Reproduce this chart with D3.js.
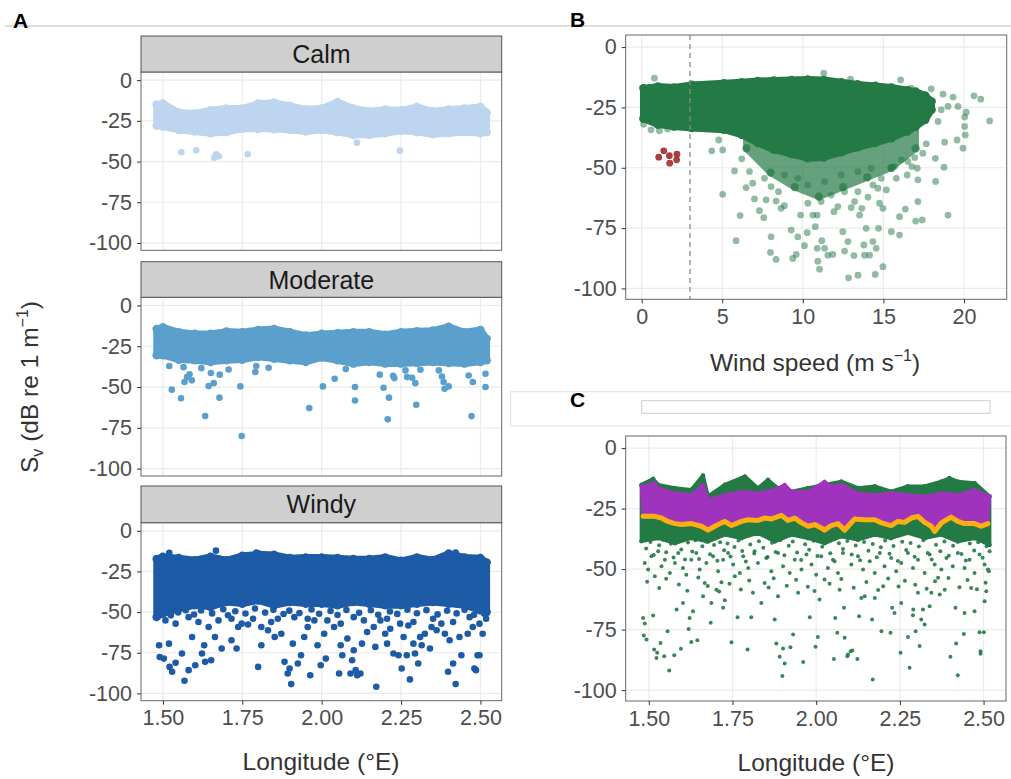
<!DOCTYPE html>
<html>
<head>
<meta charset="utf-8">
<script src="https://cdn.jsdelivr.net/npm/d3@7"></script>
<style>
  body { margin: 0; background: #fff; }
  svg { display: block; }
</style>
</head>
<body>
<div id="chart"></div>
<script>
// ---- data ----
const yTicks = [0, -25, -50, -75, -100];
const lonTicks = [1.5, 1.75, 2, 2.25, 2.5];
const windTicks = [0, 5, 10, 15, 20];
const facetNames = ["Calm", "Moderate", "Windy"];

// A: dense band envelopes (point centres) per facet
const aLon = [1.48, 1.50, 1.55, 1.60, 1.65, 1.70, 1.75, 1.80, 1.85, 1.90, 1.95, 2.00, 2.05, 2.10, 2.15, 2.20, 2.25, 2.30, 2.35, 2.40, 2.45, 2.50, 2.52];
const calmTop = [-14.9, -14.3, -19.8, -20.4, -18.4, -17.3, -17.3, -14.3, -13.7, -15.7, -17.8, -17.3, -13.3, -17.3, -19.0, -18.0, -18.4, -16.3, -19.0, -18.0, -17.3, -16.3, -19.8];
const calmBottom = [-28.0, -28.6, -30.6, -31.6, -32.7, -32.0, -30.0, -30.0, -30.2, -30.6, -31.6, -30.6, -32.0, -33.7, -33.7, -32.7, -31.2, -32.0, -33.3, -32.7, -32.0, -32.7, -32.0];
const moderateTop = [-14.3, -13.3, -16.3, -17.3, -17.3, -15.9, -16.3, -14.9, -14.3, -16.3, -18.4, -17.3, -16.9, -16.3, -16.3, -17.8, -16.3, -15.7, -15.3, -12.9, -16.3, -14.9, -20.4];
const moderateBottom = [-30.6, -30.6, -33.3, -33.7, -34.7, -33.7, -33.3, -31.6, -32.7, -33.7, -34.7, -32.0, -33.7, -35.7, -34.7, -35.7, -35.7, -35.3, -34.7, -35.3, -35.7, -34.7, -33.7];
const windyTop = [-17.3, -15.9, -16.7, -18.0, -15.9, -18.0, -15.3, -14.3, -14.7, -16.7, -16.3, -16.3, -16.7, -17.3, -17.3, -16.3, -18.4, -16.3, -18.0, -13.9, -16.3, -16.7, -19.4];
const windyBottom = [-53.1, -51.0, -48.0, -45.9, -46.9, -43.9, -44.9, -42.9, -45.9, -43.9, -44.9, -44.9, -45.9, -43.9, -44.9, -45.9, -45.9, -44.9, -43.9, -44.9, -45.9, -49.0, -50.0];

// A: single points outside the band [lon, Sv]
const calmPoints = [[1.558, -44.3], [1.605, -43.1], [1.662, -47.6], [1.676, -46.7], [1.668, -45.5], [1.767, -45.5], [2.111, -38.4], [2.246, -43.3]];
const moderatePoints = [
  [1.520, -37.1], [1.528, -51.6], [1.557, -56.9], [1.565, -37.8], [1.568, -46.9], [1.576, -43.9], [1.584, -42.2], [1.591, -45.9],
  [1.621, -38.4], [1.633, -67.8], [1.644, -49.4], [1.651, -41.4], [1.660, -47.6], [1.678, -56.5], [1.679, -42.4], [1.707, -39.2],
  [1.744, -49.6], [1.748, -80.0], [1.791, -40.8], [1.794, -37.1], [1.833, -38.2], [1.961, -62.9], [2.004, -49.6], [2.041, -44.9],
  [2.076, -39.0], [2.105, -50.0], [2.105, -58.2], [2.183, -42.4], [2.195, -50.4], [2.208, -69.8], [2.212, -56.5], [2.225, -43.1],
  [2.229, -44.5], [2.264, -39.8], [2.269, -43.9], [2.285, -44.3], [2.295, -47.6], [2.298, -60.8], [2.311, -39.4], [2.369, -39.8],
  [2.379, -43.5], [2.384, -46.9], [2.387, -51.0], [2.400, -49.6], [2.463, -42.9], [2.472, -67.8], [2.476, -46.9], [2.516, -41.8],
  [2.516, -50.0]
];
const windyPoints = [
  [1.520, -13.5], [1.667, -12.2], [1.794, -13.3], [2.422, -13.3],
  [1.495, -48.5], [1.525, -52.0], [1.548, -50.2], [1.572, -48.8], [1.598, -51.5], [1.620, -49.0], [1.655, -50.8], [1.690, -48.2],
  [1.705, -51.9], [1.728, -49.5], [1.760, -50.9], [1.790, -47.8], [1.822, -50.3], [1.848, -48.6], [1.880, -51.2], [1.898, -49.1],
  [1.930, -50.6], [1.968, -48.4], [1.992, -51.0], [2.028, -49.3], [2.050, -51.8], [2.078, -48.7], [2.118, -50.4], [2.155, -48.9],
  [2.178, -51.6], [2.215, -49.6], [2.238, -51.1], [2.270, -48.5], [2.300, -50.7], [2.330, -48.8], [2.365, -51.4], [2.395, -49.2],
  [2.425, -50.8], [2.450, -48.6], [2.480, -51.7], [2.505, -49.0],
  [1.508, -55.1], [1.540, -57.1], [1.581, -53.1], [1.612, -56.1], [1.644, -59.2], [1.675, -55.1], [1.716, -54.1], [1.748, -57.1],
  [1.841, -56.1], [1.862, -54.1], [1.914, -53.1], [1.956, -54.1], [2.018, -55.1], [2.060, -57.1], [2.101, -53.1], [2.133, -55.1],
  [2.206, -54.1], [2.289, -56.1], [2.351, -54.1], [2.414, -56.1], [2.466, -53.1], [2.497, -57.1], [2.518, -54.1],
  [1.488, -70.4], [1.490, -77.6], [1.503, -78.6], [1.519, -69.4], [1.521, -83.7], [1.529, -86.7], [1.540, -81.2], [1.560, -75.5],
  [1.568, -92.2], [1.581, -85.7], [1.592, -65.3], [1.602, -82.7], [1.623, -75.5], [1.630, -70.4], [1.633, -80.6], [1.652, -79.6],
  [1.664, -65.3], [1.685, -72.4], [1.716, -67.3], [1.732, -72.4], [1.737, -59.2], [1.768, -57.6], [1.784, -54.1], [1.800, -83.7],
  [1.810, -70.4], [1.810, -59.2], [1.831, -61.2], [1.852, -65.3], [1.873, -63.3], [1.883, -80.6], [1.893, -87.8], [1.899, -84.7],
  [1.904, -94.3], [1.909, -69.4], [1.925, -81.6], [1.935, -76.5], [1.945, -65.3], [1.956, -59.2], [1.964, -88.8], [1.977, -55.1],
  [1.987, -70.4], [1.997, -82.7], [2.008, -63.3], [2.013, -78.6], [2.039, -59.2], [2.055, -87.8], [2.060, -70.4], [2.065, -76.5],
  [2.081, -66.3], [2.091, -87.8], [2.096, -79.6], [2.101, -73.5], [2.107, -85.7], [2.112, -88.8], [2.122, -87.8], [2.127, -69.4],
  [2.143, -62.2], [2.164, -59.2], [2.169, -71.4], [2.172, -95.9], [2.185, -55.1], [2.200, -63.3], [2.206, -69.4], [2.216, -60.2],
  [2.226, -75.5], [2.242, -76.5], [2.247, -57.1], [2.252, -84.7], [2.258, -65.3], [2.268, -76.5], [2.273, -58.2], [2.278, -91.4],
  [2.289, -69.4], [2.294, -75.5], [2.304, -81.6], [2.310, -65.3], [2.315, -70.4], [2.325, -63.3], [2.341, -72.4], [2.346, -59.2],
  [2.362, -61.2], [2.377, -57.1], [2.388, -63.3], [2.398, -86.7], [2.403, -67.3], [2.414, -81.6], [2.422, -94.3], [2.434, -65.3],
  [2.440, -76.5], [2.460, -63.3], [2.476, -59.2], [2.481, -84.7], [2.486, -85.7], [2.491, -76.5], [2.497, -76.5], [2.512, -51.0],
  [2.507, -63.3]
];

// B: Sv against wind speed
const bWind = [0.1, 1.0, 2.0, 3.1, 5.1, 6.2, 7.2, 8.2, 9.3, 10.3, 11.3, 12.4, 13.4, 14.5, 15.5, 16.5, 17.0, 17.6, 18.0];
const bTop = [-17.0, -16.3, -16.7, -15.6, -14.9, -14.5, -14.0, -13.8, -13.6, -13.4, -13.6, -14.5, -15.4, -16.0, -16.7, -17.8, -18.4, -20.0, -22.5];
const bBottom = [-29.7, -32.2, -33.0, -33.6, -34.3, -36.4, -39.8, -42.6, -44.4, -46.1, -45.8, -43.6, -41.6, -39.8, -37.8, -35.0, -33.0, -30.2, -26.0];
const bMidWind = [6.5, 8, 9.5, 11, 12.5, 14, 15.5, 17];
const bMidTop = [-37, -41, -44, -45.5, -43, -40, -37.5, -33];
const bMidBottom = [-42, -52, -58, -62, -58, -54, -50, -42];
const bPoints = [
  [0.79, -12.9], [11.30, -10.8], [12.96, -13.3], [16.07, -13.6], [16.73, -17.0], [17.97, -17.3], [18.70, -19.5], [19.32, -20.7],
  [20.62, -20.2], [21.04, -21.6], [21.59, -30.6], [20.04, -29.0], [20.14, -27.0], [19.63, -24.6], [19.01, -24.6], [18.59, -26.0],
  [18.39, -30.8], [20.04, -32.9], [20.08, -36.4], [19.57, -38.5], [19.94, -41.9], [18.80, -39.4], [18.22, -46.1], [18.76, -49.8],
  [18.24, -55.7], [17.14, -55.0], [17.66, -40.1], [17.45, -44.0], [16.94, -45.8], [16.52, -47.4], [16.11, -46.7],
  [0.12, -32.0], [0.58, -34.3], [1.10, -34.7], [1.61, -33.9],
  [4.35, -43.0], [5.03, -42.6], [4.78, -38.5], [5.76, -51.3], [6.21, -46.3], [6.69, -51.6], [6.89, -56.4], [6.48, -58.2],
  [5.03, -61.0], [6.11, -69.8], [5.86, -80.2], [7.00, -62.9], [7.31, -67.8], [7.58, -70.7], [7.72, -63.3], [8.03, -57.8],
  [8.34, -63.8], [8.49, -59.9], [8.65, -66.8], [8.86, -65.7], [7.99, -85.1], [8.34, -88.0], [8.03, -78.6], [9.28, -75.8],
  [9.38, -87.6], [9.59, -85.9], [9.69, -78.6], [9.86, -69.6], [10.10, -82.3], [10.27, -76.9], [10.31, -64.7], [10.62, -69.6],
  [10.77, -74.4], [10.89, -69.6], [10.89, -83.4], [10.93, -88.7], [11.04, -92.0], [11.18, -80.2], [11.35, -83.4], [11.55, -86.2],
  [11.86, -85.9], [11.93, -68.2], [12.17, -66.1], [12.48, -76.5], [12.59, -84.5], [12.80, -80.6], [12.84, -95.6], [13.00, -66.5],
  [13.17, -86.4], [13.42, -94.5], [13.52, -69.6], [13.66, -66.8], [13.79, -82.0], [13.83, -86.2], [13.93, -75.1], [14.04, -62.2],
  [14.14, -86.2], [14.35, -80.6], [14.49, -94.2], [14.55, -83.4], [14.66, -58.5], [14.70, -75.1], [14.76, -64.7], [14.97, -66.8],
  [14.97, -91.0], [15.18, -59.2], [15.49, -76.5], [16.00, -77.9], [16.00, -70.3], [16.36, -67.1], [17.00, -72.1], [17.14, -64.0],
  [17.41, -71.6], [19.01, -69.6], [16.48, -53.0], [15.49, -50.2], [14.87, -54.4], [14.24, -50.2], [13.42, -51.6], [12.38, -53.0],
  [11.35, -55.7], [10.31, -57.1], [9.69, -54.4], [8.86, -53.0], [7.62, -54.4], [11.76, -61.3], [12.59, -59.9], [13.42, -59.9],
  [14.35, -57.1], [11.14, -64.0], [13.21, -64.0], [15.80, -54.4], [16.77, -49.5], [17.10, -50.2], [15.69, -49.5]
];
const bRedPoints = [[1.06, -45.6], [1.37, -43.0], [1.72, -45.0], [1.74, -48.1], [2.19, -44.4], [2.17, -46.7]];
const windThreshold = 3;

// C: green cloud, purple band, orange line and single green points
const cGreenLon = [1.478, 1.513, 1.528, 1.578, 1.627, 1.662, 1.677, 1.727, 1.787, 1.826, 1.856, 1.886, 1.926, 1.976, 2.025, 2.075, 2.125, 2.175, 2.224, 2.274, 2.324, 2.374, 2.398, 2.423, 2.473, 2.518];
const cGreenTop = [-15.1, -12.7, -15.1, -16.5, -17.2, -11.3, -19.9, -15.1, -11.7, -16.5, -13.1, -16.5, -17.9, -16.5, -15.1, -13.8, -16.5, -15.8, -17.9, -15.8, -15.8, -13.8, -12.4, -13.8, -14.4, -19.9];
const cGreenBotLon = [1.478, 1.528, 1.578, 1.627, 1.677, 1.727, 1.777, 1.826, 1.876, 1.926, 1.976, 2.025, 2.075, 2.125, 2.175, 2.224, 2.274, 2.324, 2.374, 2.423, 2.473, 2.518];
const cGreenBottom = [-38.5, -37.2, -39.3, -37.2, -38.6, -35.8, -37.2, -35.1, -38.6, -35.8, -37.2, -39.3, -36.5, -37.9, -35.8, -37.2, -35.1, -37.2, -35.8, -38.6, -37.2, -40.0];
const cPurpleLon = [1.478, 1.518, 1.528, 1.578, 1.627, 1.662, 1.677, 1.727, 1.777, 1.826, 1.876, 1.906, 1.926, 1.976, 2.025, 2.045, 2.075, 2.125, 2.175, 2.224, 2.274, 2.324, 2.374, 2.423, 2.473, 2.518];
const cPurpleTop = [-15.8, -14.4, -16.5, -18.6, -19.3, -15.1, -21.3, -19.3, -17.9, -18.6, -17.2, -15.1, -17.9, -17.9, -13.8, -15.8, -15.1, -18.6, -19.3, -18.6, -19.3, -19.9, -18.6, -19.3, -17.2, -19.9];
const cOrangeLon = [1.483, 1.518, 1.538, 1.557, 1.578, 1.598, 1.627, 1.657, 1.677, 1.697, 1.717, 1.727, 1.747, 1.777, 1.797, 1.826, 1.846, 1.866, 1.896, 1.916, 1.936, 1.956, 1.976, 1.996, 2.015, 2.025, 2.045, 2.065, 2.085, 2.095, 2.115, 2.145, 2.175, 2.195, 2.224, 2.244, 2.264, 2.284, 2.304, 2.324, 2.344, 2.354, 2.374, 2.403, 2.423, 2.443, 2.473, 2.493, 2.513];
const cOrangeVal = [-28.2, -28.2, -28.9, -30.3, -31.2, -31.6, -31.2, -32.3, -33.9, -32.3, -30.9, -30.3, -32.0, -30.3, -29.6, -29.9, -28.9, -29.3, -27.8, -29.9, -28.9, -30.9, -32.3, -31.6, -33.0, -33.9, -32.0, -31.2, -33.9, -32.3, -29.3, -29.6, -29.6, -30.9, -32.0, -30.3, -30.7, -28.9, -28.2, -30.7, -32.3, -34.4, -30.9, -28.5, -30.3, -31.2, -31.2, -32.3, -31.2];
const cPoints = [
  [1.483, -70.2], [1.488, -72.5], [1.485, -77.4], [1.493, -79.1], [1.513, -69.2], [1.516, -83.2], [1.523, -86.7], [1.525, -84.6],
  [1.535, -80.5], [1.546, -86.0], [1.556, -75.7], [1.561, -91.9], [1.576, -85.6], [1.596, -82.9], [1.583, -66.7], [1.602, -64.0],
  [1.619, -74.7], [1.622, -70.2], [1.627, -80.1], [1.632, -67.4], [1.645, -79.4], [1.662, -61.2], [1.667, -55.7], [1.685, -72.2],
  [1.687, -64.0], [1.702, -58.5], [1.722, -66.0], [1.717, -55.4], [1.727, -62.9], [1.747, -80.2], [1.757, -53.0], [1.765, -69.9],
  [1.795, -83.2], [1.806, -69.9], [1.811, -59.8], [1.836, -64.0], [1.846, -55.7], [1.876, -70.8], [1.881, -80.7], [1.886, -61.2],
  [1.891, -86.2], [1.899, -94.2], [1.901, -82.8], [1.906, -89.0], [1.923, -82.3], [1.931, -77.0], [1.946, -59.8], [1.961, -88.4],
  [1.981, -69.9], [1.998, -82.1], [2.005, -78.1], [2.010, -62.6], [2.025, -54.3], [2.053, -87.1], [2.057, -70.2], [2.063, -76.3],
  [2.070, -58.5], [2.083, -66.0], [2.085, -78.4], [2.093, -86.0], [2.095, -85.3], [2.103, -83.9], [2.108, -83.6], [2.123, -87.1],
  [2.128, -69.5], [2.135, -61.9], [2.145, -61.2], [2.167, -70.8], [2.169, -95.6], [2.175, -61.9], [2.195, -75.7], [2.200, -57.1],
  [2.222, -76.3], [2.227, -66.0], [2.234, -68.1], [2.252, -84.6], [2.254, -64.0], [2.274, -78.1], [2.279, -90.8], [2.289, -69.1],
  [2.290, -66.7], [2.297, -75.7], [2.304, -59.8], [2.309, -81.8], [2.314, -70.8], [2.319, -66.7], [2.324, -72.9], [2.339, -65.3],
  [2.344, -59.8], [2.364, -53.6], [2.369, -60.5], [2.384, -58.5], [2.401, -86.2], [2.416, -66.0], [2.418, -80.7], [2.423, -93.9],
  [2.441, -76.8], [2.443, -68.1], [2.463, -57.8], [2.473, -67.4], [2.488, -76.1], [2.491, -83.9], [2.491, -85.0], [2.501, -76.1],
  [2.503, -63.3], [2.508, -59.1], [2.516, -50.9],
  [1.488, -47.5], [1.498, -50.2], [1.508, -44.7], [1.518, -53.0], [1.528, -42.6], [1.538, -48.8], [1.548, -46.1], [1.563, -51.6],
  [1.578, -47.5], [1.588, -43.3], [1.602, -49.5], [1.612, -52.3], [1.627, -46.1], [1.642, -43.3], [1.652, -50.2], [1.672, -47.5],
  [1.692, -44.7], [1.707, -50.9], [1.722, -46.1], [1.737, -43.3], [1.752, -48.1], [1.772, -51.6], [1.782, -44.7], [1.797, -49.5],
  [1.816, -42.6], [1.826, -47.5], [1.851, -45.4], [1.866, -50.9], [1.886, -43.3], [1.901, -48.8], [1.921, -51.6], [1.936, -46.1],
  [1.956, -50.2], [1.971, -44.0], [1.986, -48.1], [2.000, -52.3], [2.015, -44.7], [2.035, -49.5], [2.050, -46.1], [2.065, -51.6],
  [2.080, -43.3], [2.105, -48.1], [2.125, -44.7], [2.140, -50.2], [2.160, -46.8], [2.175, -51.6], [2.190, -43.3], [2.204, -48.8],
  [2.224, -45.4], [2.239, -50.9], [2.254, -47.5], [2.274, -43.3], [2.289, -49.5], [2.304, -46.1], [2.324, -51.6], [2.339, -44.0],
  [2.354, -48.1], [2.374, -50.2], [2.389, -45.4], [2.408, -48.8], [2.423, -43.3], [2.443, -49.5], [2.458, -46.1], [2.473, -51.6],
  [2.488, -44.0], [2.503, -48.1], [2.518, -42.6], [2.513, -50.2],
  [1.492, -41.5], [1.505, -38.8], [1.515, -44.2], [1.531, -40.1], [1.543, -37.9], [1.552, -43.0], [1.566, -39.5], [1.574, -45.2],
  [1.585, -38.4], [1.597, -41.9], [1.608, -46.0], [1.617, -39.0], [1.630, -42.7], [1.639, -38.1], [1.650, -45.8], [1.660, -40.6],
  [1.671, -38.7], [1.683, -43.9], [1.695, -40.0], [1.705, -46.5], [1.713, -38.9], [1.725, -42.2], [1.735, -39.4], [1.744, -44.8],
  [1.756, -40.9], [1.768, -38.2], [1.779, -42.5], [1.790, -46.9], [1.803, -39.8], [1.815, -43.6], [1.829, -38.5], [1.842, -41.2],
  [1.855, -45.0], [1.868, -39.1], [1.879, -42.9], [1.893, -38.0], [1.905, -44.3], [1.918, -40.4], [1.930, -38.6], [1.943, -43.1],
  [1.955, -46.2], [1.967, -39.7], [1.979, -42.0], [1.992, -38.3], [2.004, -44.6], [2.018, -40.8], [2.030, -38.9], [2.042, -43.4],
  [2.055, -46.8], [2.068, -39.3], [2.080, -41.7], [2.093, -38.4], [2.106, -44.0], [2.118, -40.2], [2.131, -46.3], [2.143, -38.8],
  [2.156, -42.4], [2.169, -39.6], [2.181, -45.1], [2.193, -41.0], [2.206, -38.2], [2.219, -43.7], [2.231, -40.5], [2.244, -46.6],
  [2.257, -38.7], [2.269, -42.1], [2.282, -39.2], [2.294, -44.9], [2.307, -40.7], [2.320, -38.1], [2.333, -43.3], [2.345, -46.0],
  [2.358, -39.9], [2.371, -42.6], [2.383, -38.6], [2.396, -44.5], [2.409, -40.3], [2.421, -38.0], [2.434, -43.8], [2.447, -46.4],
  [2.459, -39.4], [2.472, -42.3], [2.484, -38.9], [2.497, -45.3], [2.509, -40.6], [2.516, -37.8],
  [1.495, -55.2], [1.531, -57.8], [1.552, -54.0], [1.590, -56.4], [1.615, -58.9], [1.648, -53.5], [1.676, -57.0], [1.710, -59.3],
  [1.741, -56.1], [1.775, -58.4], [1.800, -54.7], [1.858, -57.6], [1.873, -53.8], [1.912, -56.9], [1.940, -54.4], [1.975, -57.3],
  [1.995, -59.0], [2.040, -56.0], [2.075, -54.1], [2.112, -57.7], [2.150, -55.3], [2.185, -58.6], [2.215, -53.9], [2.246, -57.2],
  [2.265, -54.8], [2.296, -56.5], [2.330, -58.1], [2.355, -55.0], [2.395, -53.7], [2.428, -57.5], [2.452, -54.5], [2.480, -58.3],
  [2.506, -55.6]
];

// ---- styling ----
const FONT = "'Liberation Sans', Arial, Helvetica, sans-serif";
const Y_DOMAIN = [-104.5, 5];
const LON_DOMAIN = [1.431, 2.567];
const WIND_DOMAIN = [-0.99, 22.65];
const GRID = "#ebebeb";
const TICK_TEXT = "#4d4d4d";
const TICK_SIZE = "21.5px";
const FACET_COLORS = ["#bdd5ee", "#5ba0cd", "#1d5ba6"];
const GREEN = "#247a45";
const RED = "#9e2a2b";
const PURPLE = "#a033be";
const ORANGE = "#ffae12";

const svg = d3.select("#chart").append("svg")
    .attr("width", 1011)
    .attr("height", 779)
    .style("font-family", FONT);

svg.append("line")
    .attr("x1", 5).attr("x2", 1011).attr("y1", 26).attr("y2", 26)
    .attr("stroke", "#bdbdbd").attr("stroke-width", 1);

let clipCount = 0;

function makePanel(box, xDomain, xTicks) {
    const x = d3.scaleLinear().domain(xDomain).range([box.x0, box.x1]);
    const y = d3.scaleLinear().domain(Y_DOMAIN).range([box.y1, box.y0]);
    const g = svg.append("g");
    g.append("rect")
        .attr("x", box.x0).attr("y", box.y0)
        .attr("width", box.x1 - box.x0).attr("height", box.y1 - box.y0)
        .attr("fill", "#fff");
    g.selectAll(null).data(xTicks).join("line")
        .attr("x1", d => x(d)).attr("x2", d => x(d))
        .attr("y1", box.y0).attr("y2", box.y1)
        .attr("stroke", GRID).attr("stroke-width", 1.2);
    g.selectAll(null).data(yTicks).join("line")
        .attr("x1", box.x0).attr("x2", box.x1)
        .attr("y1", d => y(d)).attr("y2", d => y(d))
        .attr("stroke", GRID).attr("stroke-width", 1.2);

    const id = "clip" + (clipCount++);
    svg.append("clipPath").attr("id", id).append("rect")
        .attr("x", box.x0).attr("y", box.y0)
        .attr("width", box.x1 - box.x0).attr("height", box.y1 - box.y0);
    const marks = svg.append("g").attr("clip-path", `url(#${id})`);
    return { x, y, box, marks, xTicks };
}

function finishPanel(p, xFmt, withX) {
    const b = p.box;
    svg.append("rect")
        .attr("x", b.x0).attr("y", b.y0)
        .attr("width", b.x1 - b.x0).attr("height", b.y1 - b.y0)
        .attr("fill", "none").attr("stroke", "#666").attr("stroke-width", 1);

    const ya = svg.append("g")
        .attr("transform", `translate(${b.x0},0)`)
        .call(d3.axisLeft(p.y).tickValues(yTicks).tickSize(4).tickPadding(5).tickFormat(d => String(d)));
    styleAxis(ya);

    if (withX) {
        const xa = svg.append("g")
            .attr("transform", `translate(0,${b.y1})`)
            .call(d3.axisBottom(p.x).tickValues(p.xTicks).tickSize(4).tickPadding(5.5).tickFormat(xFmt));
        styleAxis(xa);
    }
}

function styleAxis(a) {
    a.select(".domain").remove();
    a.attr("font-family", FONT).attr("font-size", null);
    a.selectAll(".tick line").attr("stroke", "#333");
    a.selectAll(".tick text").attr("fill", TICK_TEXT).style("font-size", TICK_SIZE);
}

// closed polygon between an upper and a lower envelope
function bandPath(p, xsTop, top, xsBot, bottom) {
    const upper = xsTop.map((d, i) => [p.x(d), p.y(top[i])]);
    const lower = xsBot.map((d, i) => [p.x(d), p.y(bottom[i])]).reverse();
    return d3.line().curve(d3.curveLinearClosed)(upper.concat(lower));
}

function drawBand(p, xsTop, top, xsBot, bottom, color, r, opacity) {
    p.marks.append("path")
        .attr("d", bandPath(p, xsTop, top, xsBot, bottom))
        .attr("fill", color).attr("stroke", color)
        .attr("stroke-width", 2 * r).attr("stroke-linejoin", "round")
        .attr("opacity", opacity);
    // round bumps on the envelope vertices, like the edge of a point cloud
    p.marks.selectAll(null).data(xsTop.map((d, i) => [d, top[i]]).concat(xsBot.map((d, i) => [d, bottom[i]])))
        .join("circle")
        .attr("cx", d => p.x(d[0])).attr("cy", d => p.y(d[1]))
        .attr("r", r * 1.25).attr("fill", color).attr("opacity", opacity);
}

function drawPoints(p, pts, color, r, opacity) {
    p.marks.selectAll(null).data(pts).join("circle")
        .attr("cx", d => p.x(d[0])).attr("cy", d => p.y(d[1]))
        .attr("r", r).attr("fill", color).attr("fill-opacity", opacity);
}

const fmtLon = d3.format(".2f");

// ---- panel A ----
const facetBoxes = [
    { strip: [36, 72], y0: 72, y1: 250.3 },
    { strip: [261.7, 297.3], y0: 297.3, y1: 476 },
    { strip: [486, 522.7], y0: 522.7, y1: 700.7 }
];
const facetBands = [[calmTop, calmBottom], [moderateTop, moderateBottom], [windyTop, windyBottom]];
const facetPoints = [calmPoints, moderatePoints, windyPoints];

facetNames.forEach((name, i) => {
    const fb = facetBoxes[i];
    const p = makePanel({ x0: 141, x1: 501.7, y0: fb.y0, y1: fb.y1 }, LON_DOMAIN, lonTicks);
    drawBand(p, aLon, facetBands[i][0], aLon, facetBands[i][1], FACET_COLORS[i], 3.3, 1);
    drawPoints(p, facetPoints[i], FACET_COLORS[i], 3.3, 1);
    finishPanel(p, fmtLon, i === 2);

    svg.append("rect")
        .attr("x", 141).attr("y", fb.strip[0])
        .attr("width", 501.7 - 141).attr("height", fb.strip[1] - fb.strip[0])
        .attr("fill", "#cfcfcf").attr("stroke", "#555").attr("stroke-width", 1);
    svg.append("text")
        .attr("x", (141 + 501.7) / 2).attr("y", fb.strip[0] + 27)
        .attr("text-anchor", "middle")
        .attr("fill", "#1a1a1a").style("font-size", "25px")
        .text(name);
});

// ---- panel B ----
const pB = makePanel({ x0: 625.7, x1: 1006.7, y0: 35, y1: 299.3 }, WIND_DOMAIN, windTicks);
drawBand(pB, bMidWind, bMidTop, bMidWind, bMidBottom, GREEN, 3.3, 0.7);
drawBand(pB, bWind, bTop, bWind, bBottom, GREEN, 3.3, 1);
drawPoints(pB, bPoints, GREEN, 3.4, 0.5);
drawPoints(pB, bRedPoints, RED, 3.4, 0.9);
pB.marks.append("line")
    .attr("x1", pB.x(windThreshold)).attr("x2", pB.x(windThreshold))
    .attr("y1", pB.box.y0).attr("y2", pB.box.y1)
    .attr("stroke", "#8a8a8a").attr("stroke-width", 1.3)
    .attr("stroke-dasharray", "5,4");
finishPanel(pB, d3.format("d"), true);

// ---- panel C ----
const pC = makePanel({ x0: 625.7, x1: 1006, y0: 436, y1: 701 }, LON_DOMAIN, lonTicks);
drawBand(pC, cGreenLon, cGreenTop, cGreenBotLon, cGreenBottom, GREEN, 1.8, 1);
drawPoints(pC, cPoints, GREEN, 2.0, 0.9);
drawBand(pC, cPurpleLon, cPurpleTop, cOrangeLon, cOrangeVal, PURPLE, 1.5, 1);
pC.marks.append("path")
    .attr("d", d3.line().x(d => pC.x(d)).y((d, i) => pC.y(cOrangeVal[i]))(cOrangeLon))
    .attr("fill", "none").attr("stroke", ORANGE)
    .attr("stroke-width", 5).attr("stroke-linejoin", "round").attr("stroke-linecap", "round");
finishPanel(pC, fmtLon, true);

// empty legend box above C
svg.append("rect")
    .attr("x", 510.7).attr("y", 391.7).attr("width", 520).attr("height", 34.3)
    .attr("fill", "#fff").attr("stroke", "#e2e2e2").attr("stroke-width", 1);
svg.append("rect")
    .attr("x", 641.7).attr("y", 400.7).attr("width", 348.3).attr("height", 12.6)
    .attr("fill", "#fff").attr("stroke", "#cdcdcd").attr("stroke-width", 1);

// ---- titles and labels ----
const titleSize = "24.5px";
const yTitle = svg.append("text")
    .attr("transform", "translate(38,387) rotate(-90)")
    .attr("text-anchor", "middle")
    .attr("fill", "#333").style("font-size", titleSize);
yTitle.append("tspan").text("S");
yTitle.append("tspan").attr("dy", 5).style("font-size", "16px").text("v");
yTitle.append("tspan").attr("dy", -5).text(" (dB re 1 m");
yTitle.append("tspan").attr("dy", -10).style("font-size", "16px").text("\u22121");
yTitle.append("tspan").attr("dy", 10).text(")");

svg.append("text")
    .attr("x", 321).attr("y", 770)
    .attr("text-anchor", "middle").attr("fill", "#333").style("font-size", titleSize)
    .text("Longitude (\u00b0E)");
svg.append("text")
    .attr("x", 816).attr("y", 771)
    .attr("text-anchor", "middle").attr("fill", "#333").style("font-size", titleSize)
    .text("Longitude (\u00b0E)");

const windTitle = svg.append("text")
    .attr("x", 815).attr("y", 371)
    .attr("text-anchor", "middle").attr("fill", "#333").style("font-size", titleSize);
windTitle.append("tspan").text("Wind speed (m s");
windTitle.append("tspan").attr("dy", -10).style("font-size", "16px").text("\u22121");
windTitle.append("tspan").attr("dy", 10).text(")");

[["A", 13, 28], ["B", 570, 27], ["C", 570, 406.7]].forEach(([t, x, y]) => {
    svg.append("text")
        .attr("x", x).attr("y", y)
        .attr("fill", "#000").style("font-size", "21px").style("font-weight", "bold")
        .text(t);
});
</script>
</body>
</html>
